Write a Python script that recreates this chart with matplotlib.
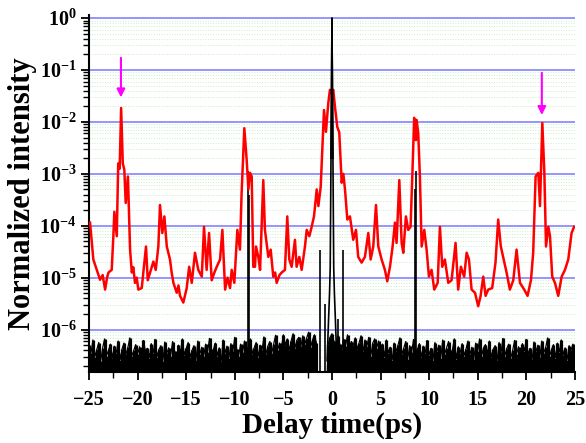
import numpy as np
import matplotlib
matplotlib.use('Agg')
import matplotlib.pyplot as plt
from matplotlib.ticker import MultipleLocator, LogLocator, FuncFormatter, NullFormatter

plt.rcParams['font.family'] = 'Liberation Serif'
plt.rcParams['font.weight'] = 'bold'
plt.rcParams['mathtext.fontset'] = 'custom'
plt.rcParams['mathtext.rm'] = 'Liberation Serif:bold'
plt.rcParams['mathtext.bf'] = 'Liberation Serif:bold'
plt.rcParams['mathtext.it'] = 'Liberation Serif:bold:italic'

# red trace: delay (ps) and log10 of normalized intensity
red_x = [-24.9, -24.56, -24.2, -23.87, -23.6, -23.35, -23.15, -23.0, -22.67, -22.5, -22.4, -22.15,
         -22.0, -21.85, -21.7, -21.53, -21.37, -21.23, -21.0, -20.78, -20.6, -20.45, -20.27, -20.1,
         -19.93, -19.58, -19.3, -19.14, -18.96, -18.72, -18.38, -18.14, -17.87, -17.7, -17.46, -17.25,
         -17.0, -16.67, -16.5, -16.32, -15.98, -15.8, -15.64, -15.3, -14.95, -14.7, -14.43, -14.1,
         -13.76, -13.4, -13.17, -12.9, -12.65, -12.38, -12.1, -11.86, -11.52, -11.28, -11.0, -10.75,
         -10.49, -10.32, -10.05, -9.74, -9.47, -9.3, -9.02, -8.78, -8.6, -8.44, -8.26, -8.1, -7.92,
         -7.82, -7.58, -7.4, -7.07, -6.9, -6.55, -6.31, -6.04, -5.85, -5.69, -5.4, -5.17, -4.84, -4.6,
         -4.39, -4.15, -3.81, -3.64, -3.36, -3.12, -2.78, -2.6, -2.33, -2.09, -1.85, -1.57, -1.4,
         -1.16, -0.96, -0.82, -0.62, -0.38, -0.21, -0.03, 0.13, 0.31, 0.55, 0.75, 1.0, 1.17, 1.34,
         1.58, 1.85, 2.19, 2.47, 2.7, 3.05, 3.39, 3.74, 3.98, 4.25, 4.53, 4.77, 5.11, 5.45, 5.69,
         5.97, 6.24, 6.48, 6.65, 6.93, 7.17, 7.34, 7.61, 7.85, 8.09, 8.29, 8.46, 8.64, 8.71, 8.88,
         9.05, 9.23, 9.5, 9.74, 9.98, 10.25, 10.53, 10.88, 11.11, 11.35, 11.62, 11.97, 12.31, 12.72,
         12.99, 13.27, 13.61, 13.86, 14.1, 14.37, 14.72, 15.05, 15.3, 15.57, 15.81, 16.08, 16.49,
         16.83, 17.11, 17.38, 17.62, 17.97, 18.31, 18.66, 19.0, 19.35, 19.79, 20.13, 20.48, 20.71,
         20.96, 21.24, 21.41, 21.65, 21.86, 22.03, 22.27, 22.44, 22.67, 22.95, 23.29, 23.64, 23.98,
         24.32, 24.66, 24.92]
red_log = [-3.94, -4.65, -4.85, -5.04, -4.95, -5.23, -5.0, -4.9, -4.85, -4.2, -3.73, -4.2,
           -2.8, -2.9, -1.73, -2.8, -2.92, -3.56, -3.05, -4.46, -4.9, -4.8, -5.1, -5.0,
           -5.23, -5.2, -4.7, -4.4, -5.05, -4.9, -4.69, -4.85, -4.4, -3.6, -4.14, -3.82,
           -4.4, -4.65, -4.9, -5.1, -5.29, -5.15, -5.35, -5.48, -5.2, -4.79, -5.1, -4.52,
           -4.85, -4.98, -4.02, -4.85, -4.14, -5.05, -4.9, -4.79, -4.65, -4.08, -5.23, -5.0,
           -5.2, -4.85, -5.1, -4.08, -4.46, -3.37, -2.12, -2.73, -3.3, -2.98, -3.05, -4.79, -4.79,
           -4.4, -4.6, -4.85, -3.12, -4.08, -4.6, -4.46, -4.98, -4.9, -5.1, -4.95, -4.9, -4.85, -3.82,
           -4.65, -4.79, -4.27, -4.79, -4.6, -4.85, -4.4, -4.08, -4.2, -4.02, -3.82, -3.3, -3.62,
           -3.25, -2.35, -1.77, -2.19, -1.64, -1.38, -1.45, -1.38, -1.71, -2.1, -2.2, -3.17, -3.0, -3.3,
           -3.88, -3.82, -4.27, -4.08, -4.6, -4.71, -4.6, -4.14, -4.65, -4.4, -3.6, -4.4, -4.65, -4.85, -5.07,
           -4.79, -4.4, -3.94, -4.33, -3.12, -4.33, -4.52, -3.82, -4.08, -4.02, -2.92, -1.92, -2.35, -1.96, -2.22,
           -3.05, -4.4, -4.08, -4.46, -4.98, -4.85, -5.23, -5.1, -4.02, -4.79, -4.65, -5.1, -5.05, -4.33,
           -5.23, -4.79, -4.98, -4.52, -4.65, -5.23, -5.29, -5.55, -5.35, -4.98, -5.35, -5.23, -5.2,
           -4.71, -3.88, -4.4, -4.6, -4.9, -5.23, -5.05, -4.46, -5.1, -5.23, -5.35, -5.05, -4.52,
           -3.05, -2.98, -3.62, -2.02, -2.98, -4.4, -4.02, -4.2, -4.98, -5.1, -5.35, -4.98, -4.85,
           -4.65, -4.14, -4.02]

# black trace: background noise tops (-log10 * 100), evenly spread over -25..25 ps
noise = [630, 645, 620, 652, 638, 625, 660, 635, 618, 650, 640, 628, 655, 632, 645, 622, 658, 637, 626, 648, 634, 616, 651, 640, 629,
         647, 633, 658, 621, 642, 636, 654, 627, 645, 619, 652, 638, 631, 660, 624, 646, 635, 650, 623, 641, 657, 630, 644, 618, 649,
         636, 625, 653, 640, 631, 659, 622, 647, 634, 651, 628, 643, 617, 655, 638, 626, 650, 635, 661, 620, 645, 632, 654, 627, 642,
         615, 638, 650, 628, 644, 622, 656, 633, 618, 647, 635, 625, 652, 630, 640, 614, 648, 632, 623, 645, 628, 611, 640, 626, 635,
         610, 630, 618, 640, 622, 608, 635, 620, 615, 632, 612, 628, 616, 605, 634, 620, 610, 626, 760, 780, 700, 780, 760, 630, 615,
         608, 622, 635, 612, 628, 640, 618, 632, 610, 645, 623, 630, 616, 638, 625, 612, 642, 620, 631, 615, 650, 626, 618, 635, 622,
         640, 628, 652, 620, 645, 634, 658, 626, 642, 630, 616, 648, 635, 623, 656, 631, 644, 619, 650, 638, 627, 653, 632, 645, 621,
         649, 636, 658, 625, 642, 630, 654, 620, 647, 635, 623, 651, 639, 618, 656, 633, 645, 627, 650, 637, 622, 648, 634, 657, 626,
         642, 618, 651, 635, 629, 646, 622, 653, 638, 631, 659, 625, 644, 617, 650, 636, 628, 655, 640, 621, 647, 633, 652, 627, 641,
         619, 648, 636, 657, 624, 642, 630, 653, 622, 645, 634, 616, 651, 638, 629, 654, 626, 643, 620, 649, 635, 658, 631, 640, 628, 645]

# black trace: narrow spikes above the noise
spike_x = [-8.62, -8.55, -1.2, -0.75, 0.6, 1.12, 8.55, 8.62]
spike_log = [-2.95, -3.4, -4.46, -5.5, -5.8, -4.46, -3.3, -2.95]
center_x = [-0.5, -0.35, -0.25, -0.18, -0.1, -0.05, 0.0, 0.05, 0.1, 0.18, 0.25, 0.35, 0.5]
center_log = [-6.6, -5.8, -5.3, -4.8, -2.7, -1.5, 0.0, -1.5, -2.7, -4.8, -5.3, -5.8, -6.6]

ymin, ymax = 10**-6.82, 10**0.06

fig = plt.figure(figsize=(5.86, 4.43), dpi=100)
ax = fig.add_axes([0.152, 0.160, 0.829, 0.806])

noise_x = np.linspace(-25, 25, len(noise))
noise_y = 10**(-np.array(noise) / 100.0)
ax.vlines(noise_x, ymin, noise_y, color='black', lw=2.3, zorder=2)
ax.plot(noise_x, noise_y, color='black', lw=0.9, zorder=2)
ax.vlines(spike_x, ymin, 10**np.array(spike_log), color='black', lw=1.2, zorder=3)
ax.plot(center_x, 10**np.array(center_log), color='black', lw=1.2, zorder=4)

ax.plot(red_x, 10**np.array(red_log), color='#ff0000', lw=1.8, zorder=3)
ax.plot(center_x[4:9], 10**np.array(center_log[4:9]), color='black', lw=1.2, zorder=5)

ax.set_yscale('log')
ax.set_xlim(-25, 25)
ax.set_ylim(ymin, ymax)

ax.yaxis.set_major_locator(LogLocator(base=10, numticks=20))
ax.yaxis.set_minor_locator(LogLocator(base=10, subs=np.arange(2, 10), numticks=20))
ax.yaxis.set_major_formatter(FuncFormatter(lambda v, p: r'$\mathbf{10^{%d}}$' % round(np.log10(v))))
ax.yaxis.set_minor_formatter(NullFormatter())
ax.xaxis.set_major_locator(MultipleLocator(5))
ax.xaxis.set_minor_locator(MultipleLocator(2.5))

ax.grid(True, which='major', axis='y', color='#8c8cff', lw=1.3, zorder=0)
ax.grid(True, which='minor', axis='y', color='#c8f0c8', lw=0.7, ls=':', zorder=0)
ax.set_axisbelow(True)

for s in ['top', 'right']:
    ax.spines[s].set_visible(False)
ax.spines['left'].set_linewidth(1.5)
ax.spines['bottom'].set_linewidth(1.5)
ax.tick_params(axis='both', which='major', direction='out', length=6, width=1.3, labelsize=14.5)
ax.tick_params(axis='both', which='minor', direction='out', length=4, width=1.0)
ax.tick_params(axis='x', which='major', pad=7)
ax.tick_params(axis='y', which='major', pad=3)

ax.set_xlabel('Delay time(ps)', fontsize=21, fontweight='bold', labelpad=1)
ax.set_ylabel('Normalized intensity', fontsize=22, fontweight='bold', labelpad=2)

# arrows marking the satellite pulses
ax.annotate('', xy=(-21.72, 10**-1.58), xytext=(-21.72, 10**-0.71),
            arrowprops=dict(arrowstyle='-|>', color='#ff00ff', lw=1.5, mutation_scale=12))
ax.annotate('', xy=(21.6, 10**-1.92), xytext=(21.6, 10**-1.0),
            arrowprops=dict(arrowstyle='-|>', color='#ff00ff', lw=1.5, mutation_scale=12))

fig.savefig('out.png', dpi=100)
